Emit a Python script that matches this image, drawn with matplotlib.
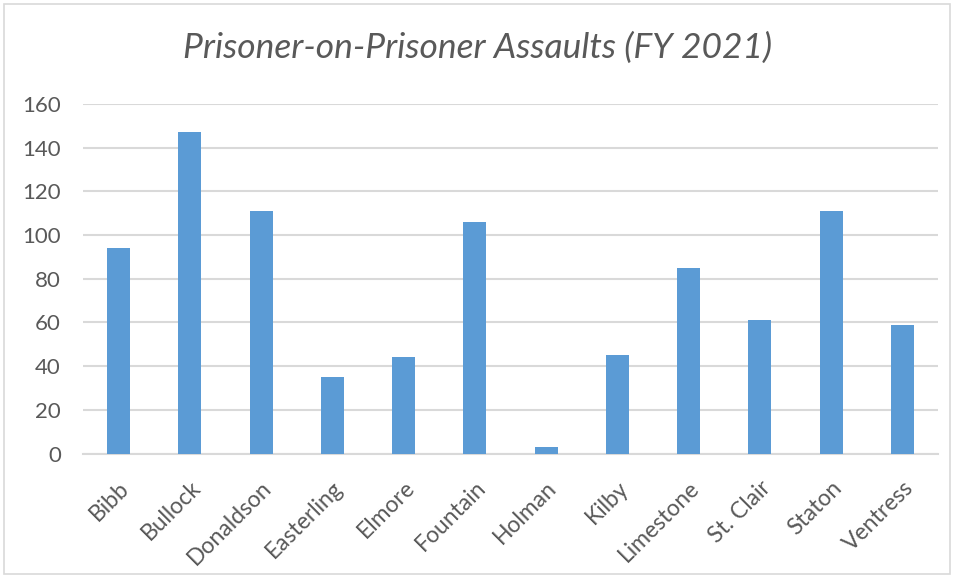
import matplotlib.pyplot as plt
from matplotlib.patches import Rectangle

plt.rcParams['font.family'] = ['Lato', 'DejaVu Sans']

facilities = ['Bibb', 'Bullock', 'Donaldson', 'Easterling', 'Elmore', 'Fountain',
              'Holman', 'Kilby', 'Limestone', 'St. Clair', 'Staton', 'Ventress']
assaults = [94, 147, 111, 35, 44, 106, 3, 45, 85, 61, 111, 59]
y_ticks = [0, 20, 40, 60, 80, 100, 120, 140, 160]

text_color = '#595959'
grid_color = '#d9d9d9'
bar_color = '#5b9bd5'

fig = plt.figure(figsize=(9.55, 5.76), dpi=100)
ax = fig.add_axes([83 / 955, 1 - 453.5 / 576, 855 / 955, 349.5 / 576])

x = list(range(len(facilities)))
ax.bar(x, assaults, width=0.32, color=bar_color, zorder=3)

ax.set_xlim(-0.5, len(facilities) - 0.5)
ax.set_ylim(0, 160)
ax.set_yticks(y_ticks)
ax.set_yticklabels([str(t) for t in y_ticks], fontsize=16, color=text_color)
ax.set_xticks(x)
ax.set_xticklabels(facilities, rotation=45, ha='right', rotation_mode='anchor',
                   fontsize=16.5, color=text_color)
ax.tick_params(axis='both', length=0)
ax.tick_params(axis='y', pad=16)
ax.tick_params(axis='x', pad=17)
ax.grid(axis='y', color=grid_color, linewidth=1.5, zorder=0)
for side in ['top', 'right', 'left']:
    ax.spines[side].set_visible(False)
ax.spines['bottom'].set_color(grid_color)
ax.spines['bottom'].set_linewidth(1.5)

fig.text(0.5, 1 - 48 / 576, 'Prisoner-on-Prisoner Assaults (FY 2021)', ha='center', va='center',
         fontsize=25.5, style='italic', color=text_color)

# light border around the chart area
fig.patches.append(Rectangle((4 / 955, 2 / 576), 946 / 955, 570 / 576, transform=fig.transFigure,
                             fill=False, edgecolor='#d9d9d9', linewidth=1.2))

fig.savefig('out.png', dpi=100)
